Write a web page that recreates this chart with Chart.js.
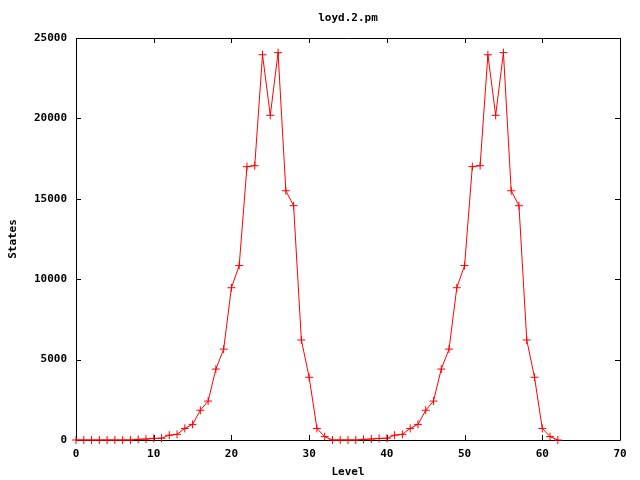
<!DOCTYPE html>
<html>
<head>
<meta charset="utf-8">
<title>loyd.2.pm</title>
<script src="https://cdn.jsdelivr.net/npm/chart.js@4"></script>
<style>
  html, body { margin: 0; padding: 0; background: #fff; }
  canvas { display: block; }
</style>
</head>
<body>
<canvas id="chart" width="640" height="480"></canvas>
<script>
// level 0..62, number of states at each level
const levels = [
  0, 1, 2, 3, 4, 5, 6, 7, 8, 9, 10, 11, 12, 13, 14, 15, 16, 17, 18, 19, 20,
  21, 22, 23, 24, 25, 26, 27, 28, 29, 30, 31, 32, 33, 34, 35, 36, 37, 38, 39, 40,
  41, 42, 43, 44, 45, 46, 47, 48, 49, 50, 51, 52, 53, 54, 55, 56, 57, 58, 59, 60,
  61, 62
];
const states = [
  0, 0, 0, 0, 0, 0, 0, 0, 40, 60, 100, 110, 300, 350, 720, 970, 1850, 2420, 4410, 5650, 9470,
  10850, 17000, 17060, 23960, 20190, 24090, 15500, 14570, 6220, 3900, 720, 210, 0, 0, 0, 0, 40, 60, 100, 110,
  300, 350, 720, 970, 1850, 2420, 4410, 5650, 9470, 10850, 17000, 17060, 23960, 20190, 24090, 15500, 14570, 6220, 3900, 720,
  210, 0
];
const xTicks = [0, 10, 20, 30, 40, 50, 60, 70];
const yTicks = [0, 5000, 10000, 15000, 20000, 25000];

const font = { family: "'DejaVu Sans Mono', 'Liberation Mono', monospace", size: 11, weight: "bold" };

// gnuplot style frame with inward ticks on all four sides
const framePlugin = {
  id: "frame",
  beforeDatasetsDraw(chart) {
    const { ctx, chartArea: a, scales } = chart;
    const len = 5;
    ctx.save();
    ctx.strokeStyle = "#000";
    ctx.lineWidth = 1;
    ctx.beginPath();
    ctx.rect(Math.round(a.left) + 0.5, Math.round(a.top) + 0.5,
      Math.round(a.right - a.left), Math.round(a.bottom - a.top));
    for (const v of xTicks) {
      const x = Math.round(scales.x.getPixelForValue(v)) + 0.5;
      ctx.moveTo(x, a.bottom); ctx.lineTo(x, a.bottom - len);
      ctx.moveTo(x, a.top); ctx.lineTo(x, a.top + len);
    }
    for (const v of yTicks) {
      const y = Math.round(scales.y.getPixelForValue(v)) + 0.5;
      ctx.moveTo(a.left, y); ctx.lineTo(a.left + len, y);
      ctx.moveTo(a.right, y); ctx.lineTo(a.right - len, y);
    }
    ctx.stroke();
    ctx.restore();
  }
};

new Chart(document.getElementById("chart"), {
  type: "line",
  data: {
    labels: levels,
    datasets: [{
      data: levels.map((l, i) => ({ x: l, y: states[i] })),
      borderColor: "#ff0000",
      backgroundColor: "#ff0000",
      borderWidth: 1,
      pointStyle: "cross",
      pointRadius: 4,
      pointBorderWidth: 1,
      pointBorderColor: "#ff0000",
      tension: 0,
      clip: false
    }]
  },
  options: {
    responsive: false,
    animation: false,
    layout: { padding: { left: 0, right: 20, top: 0, bottom: 0 } },
    plugins: {
      legend: { display: false },
      tooltip: { enabled: false },
      title: {
        display: true,
        text: "loyd.2.pm",
        color: "#000",
        font: font,
        fullSize: false,
        padding: { top: 12, bottom: 12.8 }
      }
    },
    scales: {
      x: {
        type: "linear",
        min: 0,
        max: 70,
        afterBuildTicks: (s) => { s.ticks = xTicks.map(v => ({ value: v })); },
        afterFit: (s) => { s.height = 40; },
        grid: { display: false, drawTicks: false },
        border: { display: false },
        ticks: { color: "#000", font: font, padding: 8, maxRotation: 0 },
        title: { display: true, text: "Level", color: "#000", font: font, padding: { top: 0, bottom: 1.5 } }
      },
      y: {
        type: "linear",
        min: 0,
        max: 25000,
        afterBuildTicks: (s) => { s.ticks = yTicks.map(v => ({ value: v })); },
        afterFit: (s) => { s.width = 76; },
        grid: { display: false, drawTicks: false },
        border: { display: false },
        ticks: { color: "#000", font: font, padding: 9, callback: (v) => String(v) },
        title: { display: true, text: "States", color: "#000", font: font, padding: { top: 6.4, bottom: 0 } }
      }
    }
  },
  plugins: [framePlugin]
});
</script>
</body>
</html>
